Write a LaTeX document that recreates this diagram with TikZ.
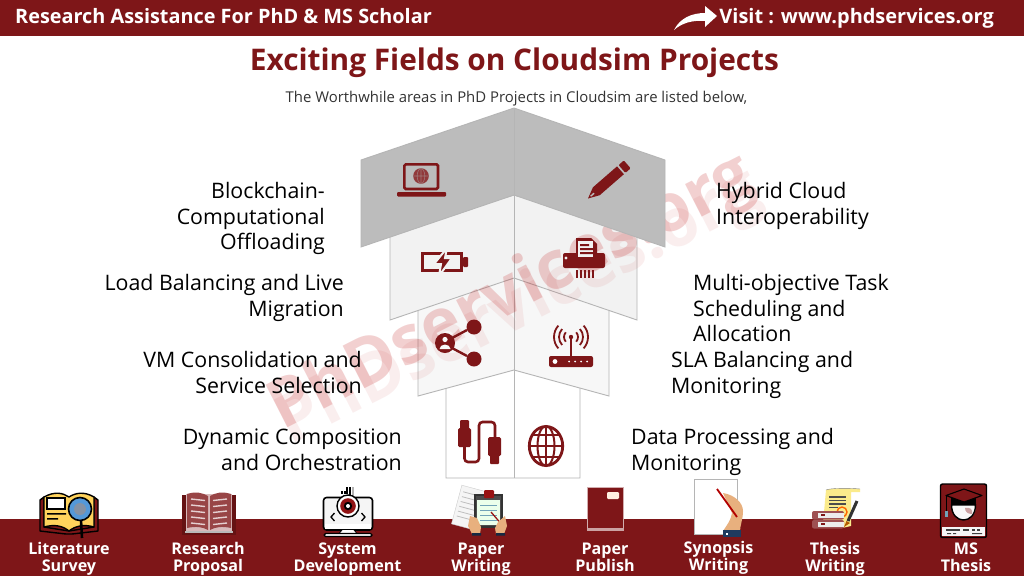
\documentclass[tikz,border=0pt]{standalone}
\usepackage{fontspec}
\setmainfont{Open Sans}
\usetikzlibrary{calc}
\definecolor{maroon}{HTML}{7E1618}
\definecolor{edge}{HTML}{B5B5B5}
\definecolor{skin}{HTML}{E8B07E}
\definecolor{bookyel}{HTML}{FFD35C}
\definecolor{scrolly}{HTML}{FBEB8C}
\definecolor{navy}{HTML}{1F3A5F}
\definecolor{wmred}{HTML}{C01818}
\tikzset{
 panel/.style={draw=edge,line width=.9pt,line join=miter},
 lab/.style={font=\fontsize{21.35}{25.6}\selectfont,text=black,inner sep=0pt},
 labl/.style={lab,align=left,anchor=west},
 labr/.style={lab,align=right,anchor=east},
 foot/.style={font=\bfseries\fontsize{16.1}{17}\selectfont,text=white,align=center,inner sep=0pt,anchor=center},
 wm/.style={font=\bfseries\fontsize{67}{67}\selectfont,inner sep=0pt,rotate=27},
 ic/.style={fill=maroon,draw=none},
 icl/.style={draw=maroon,fill=none,line width=2.6pt},
 blk/.style={draw=black,line width=1.4pt,line join=round}
}
\begin{document}
\begin{tikzpicture}[x=1pt,y=-1pt]
\useasboundingbox (0,0) rectangle (1024,576);
\fill[white] (0,0) rectangle (1024,576);
% bands
\fill[maroon] (0,0) rectangle (1024,36);
\fill[maroon] (0,519) rectangle (1024,576);
% panels, lowest first
\draw[panel,fill=white] (446,378)--(514,360)--(580,378)--(580,478)--(446,478)--cycle;
\draw[panel] (514,370)--(514,478);
\draw[panel,fill=gray!6] (418,304)--(514,278)--(609,304)--(609,396)--(514,370)--(418,396)--cycle;
\draw[panel] (514,278)--(514,370);
\draw[panel,fill=gray!10] (390,230)--(514,195)--(637,230)--(637,320)--(514,278)--(390,320)--cycle;
\draw[panel] (514,195)--(514,278);
% watermark
\node[wm,text=wmred,opacity=.07] (wmb) at (520,309) {PhDservices.org};
\node[wm,text=wmred,opacity=.2] (wma) at (512,294) {PhDservices.org};
% top panels
\draw[panel,fill=edge!90!white] (361,160)--(514,108)--(665,160)--(665,247)--(514,195)--(361,247)--cycle;
\draw[panel] (514,108)--(514,195);
% laptop
\draw[icl,rounded corners=1.5pt] (404.3,164.3) rectangle (438,189);
\fill[ic,rounded corners=1pt] (397,192) rectangle (446,196.5);
\fill[maroon!85!white] (421,176) circle (7.8);
\draw[edge!60!maroon,line width=.6pt] (421,168.5)--(421,183.5) (413.5,176)--(428.5,176) (421,176) ellipse (3.8 and 7.5);
% pencil
\begin{scope}[shift={(588,198.5)},rotate=41]
\fill[ic] (0,0)--(11,-5.2)--(43,-5.2)--(43,5.2)--(11,5.2)--cycle;
\fill[ic,rounded corners=1pt] (45,-5.2) rectangle (52,5.2);
\fill[edge!90!white] (3.5,-0.7) rectangle (8,.7);
\end{scope}
% battery
\draw[icl,line width=3.2pt] (422.6,253.6) rectangle (461.5,270.4);
\fill[ic,rounded corners=1pt] (463,257) rectangle (468,267);
\filldraw[fill=maroon,draw=gray!10,line width=2pt,line join=miter] (447,248)--(434,264)--(441,264)--(439,276)--(452,258)--(445,258)--cycle;
% shredder
\fill[ic,rounded corners=2pt] (563,253) rectangle (605,268);
\fill[ic] (576,238)--(591,238)--(597,244)--(597,258)--(576,258)--cycle;
\fill[gray!10] (578,241) rectangle (593,257);
\fill[ic] (580,244) rectangle (589,246) (580,248) rectangle (593,250) (580,252) rectangle (593,254);
\fill[gray!10] (566,258) circle (1.6);
\foreach \i in {576,580,584,588,592} \fill[ic] (\i,270) rectangle ++(2.2,8);
% share
\draw[maroon,line width=2.4pt] (452,338)--(467,330) (452,348)--(467,356);
\fill[ic] (445,343) circle (10) (474,327) circle (7.5) (474,359) circle (7.5);
\fill[gray!5] (445,339.5) circle (2.6);
\fill[gray!5] (439.5,349) arc (180:360:5.5 and 4.5)--cycle;
% router
\fill[ic,rounded corners=2pt] (549,356) rectangle (593,367);
\draw[maroon,line width=1.8pt] (571,338)--(571,357);
\fill[ic] (571,337) circle (2.2);
\foreach \r in {7,12,17}{
 \draw[maroon,line width=1.8pt] ($(571,337)+(-42:\r)$) arc (-42:42:\r);
 \draw[maroon,line width=1.8pt] ($(571,337)+(138:\r)$) arc (138:222:\r);
}
\fill[white] (555,361.5) circle (2.4);
\foreach \i in {569,575,581,587} \fill[white] (\i,361.5) circle (1);
% usb
\draw[maroon,line width=2.6pt,rounded corners=3.5pt] (464.5,446)--(464.5,462)--(479,462)--(479,422)--(495,422)--(495,438);
\fill[ic,rounded corners=1.5pt] (458,428) rectangle (471,447);
\fill[ic,rounded corners=1pt] (460,420) rectangle (469,429);
\fill[ic,rounded corners=1.5pt] (488,437) rectangle (501,456);
\fill[ic,rounded corners=1pt] (490,455) rectangle (499,464);
% globe
\draw[maroon,line width=2.8pt] (546,446) ellipse (16.7 and 19.5);
\draw[maroon,line width=2pt] (546,446) ellipse (8.5 and 20);
\draw[maroon,line width=2pt] (546,426)--(546,466) (529,446)--(563,446) (532,435)--(560,435) (532,457)--(560,457);
% header arrow
\fill[white] (674,30)..controls (680,18) and (692,13) .. (705,13)--(705,6)--(717,16)--(705,27)--(705,21)..controls (692,20) and (682,23) .. (674,30)--cycle;
% ---- bottom icons ----
% literature
\draw[blk,fill=maroon] (40,500)--(44,497)--(44,527)--(69,531)--(94,527)--(94,497)--(98,500)--(98,531)--(72,534)--(66,534)--(40,531)--cycle;
\draw[blk,fill=bookyel] (44,497)..controls (55,491) and (63,493) .. (69,497)..controls (75,493) and (84,491) .. (94,497)--(94,527)..controls (84,524) and (75,526) .. (69,531)..controls (63,526) and (55,524) .. (44,527)--cycle;
\draw[black,line width=1.2pt,fill=white] (47,498) rectangle (65,509);
\fill[black] (47,513) rectangle (66,514.5) (47,518) rectangle (58,519.5);
\draw[black,line width=2.6pt] (81,520)--(82,538);
\draw[black,line width=1.6pt,fill=cyan!60!blue!70] (80,509) circle (11.5);
\fill[cyan!60!blue!40!black!60] (80,509) circle (6);
% research proposal
\fill[maroon!80!black] (182,495) rectangle (236,535);
\fill[gray!55!white] (185,531) rectangle (233,533);
\fill[white!70!maroon] (186,494) rectangle (232,531);
\fill[maroon!80!white] (187,494)..controls (196,491) and (203,493) .. (208,496)--(208,530)..controls (203,527) and (196,526) .. (187,528)--cycle;
\fill[maroon!80!white] (231,494)..controls (222,491) and (215,493) .. (210,496)--(210,530)..controls (215,527) and (222,526) .. (231,528)--cycle;
\foreach \y in {499,505,511,517,523}{
 \draw[white!80!maroon,line width=1.4pt] (191,\y)--(205,\y+1.5);
 \draw[white!80!maroon,line width=1.4pt] (227,\y)--(213,\y+1.5);
}
% system development
\draw[blk,fill=gray!8,rounded corners=3pt,line width=1.6pt] (323.5,497.5) rectangle (372.5,530);
\fill[white] (325,524) rectangle (371,529);
\fill[white] (342,530) --(354,530)--(357,533.5)--(339,533.5)--cycle;
\draw[black,line width=.8pt] (342,530)--(339,533.5) (354,530)--(357,533.5);
\draw[blk,fill=white,rounded corners=1.5pt] (324,533.5) rectangle (372,536.5);
\draw[black,line width=1.1pt] (347,487)--(347,494) (350,487)--(350,496) (345,491)--(345,494) (342,491)--(342,494);
\draw[gray!60,line width=1.5pt] (353,487)--(353,496);
\draw[blk,fill=white] (348,506) circle (11);
\fill[maroon!85!red] (348,506) circle (7.8);
\fill[black] (348,506) circle (4.2);
\fill[white] (348,506) circle (2);
\draw[black,line width=1.3pt] (334.5,513)--(331,517)--(334.5,521) (361.5,513)--(365,517)--(361.5,521);
% paper writing
\begin{scope}[rotate around={-15:(470,505)}]
\draw[gray!40,fill=gray!8] (457,488) rectangle (484,528);
\foreach \y in {494,499,504,509,514,519} \draw[gray!50,line width=.8pt] (460,\y)--(481,\y);
\end{scope}
\draw[black!80,line width=1.2pt,fill=black!70] (475,495) rectangle (502,527);
\fill[white!92!green] (477,500) rectangle (500,525);
\fill[maroon!80!red,rounded corners=1pt] (484,490) rectangle (494,498);
\foreach \y in {505,510,515,520} \draw[cyan!40!gray,line width=.8pt] (480,\y)--(497,\y);
\draw[maroon!80!red,line width=1.3pt] (491,512)--(503,526);
\fill[skin] (470,516)--(477,518)--(481,527)--(480,534)--(472,534)--(468,526)--cycle;
\fill[skin] (505,516)--(498,522)--(495,528)--(496,534)--(504,534)--(507,526)--cycle;
\fill[navy!70!black] (472,533) rectangle (481,535.5) (496,533) rectangle (505,535.5);
% paper publish
\fill[maroon] (587,487) rectangle (624,529);
\draw[white!65!maroon,line width=.5pt] (587.5,487.5) rectangle (623.5,529);
\fill[white!60!maroon] (587,528) rectangle (624,531);
\fill[white!88!orange,rounded corners=1.2pt] (607,492) rectangle (619,499);
% synopsis
\draw[edge,line width=.9pt,fill=white] (694,479) rectangle (737,534);
\fill[skin] (723,493)..controls (735,495) and (743,503) .. (743,511)..controls (743,519) and (740,526) .. (740,531)--(723,531)..controls (727,525) and (731,520) .. (732,513)--cycle;
\draw[red!70!black,line width=1.8pt] (717,489)--(737,517);
\fill[navy] (723,530) rectangle (741,537);
\fill[white] (726,532.5) rectangle (728,534.5);
% thesis
\fill[scrolly] (826,490)..controls (830,488) and (850,488) .. (860,489)--(860,492)--(851,492)--(851,526)--(842,528)--(823,522)--(824,512)--cycle;
\draw[black!50,line width=.4pt] (826,490)..controls (830,488) and (850,488) .. (860,489);
\foreach \y/\l in {496/846,499.5/846,503/846,506.5/838} \fill[black!70] (829,\y) rectangle (\l,\y+1.6);
\draw[orange!80!red,line width=1.4pt] (842,512) circle (5);
\foreach \y in {511,520}{
\fill[maroon!75!white,rounded corners=2pt] (812,\y) rectangle (844,\y+8.5);
\fill[gray!15] (818,\y+2) rectangle (844,\y+6.5);
\fill[maroon] (821,\y+3) rectangle (825,\y+5);}
\draw[black!80,line width=3pt] (848,521)--(857,501);
\fill[orange!70!black] (846.5,521)--(844,527)--(850,523)--cycle;
% ms thesis
\draw[black,line width=1.4pt,fill=maroon,rounded corners=2pt] (940.5,484) rectangle (986.5,537.5);
\fill[white!92!gray] (942,527) rectangle (985,536);
\foreach \x/\w in {946/14,963/6,972/3,977/3} \fill[black!75] (\x,529) rectangle ++(\w,1.5);
\fill[black!75] (947,533) rectangle ++(4,1.2) (953,533) rectangle ++(3,1.2) (972,533) rectangle ++(10,1.2);
\fill[black] (951,498) rectangle (976,505);
\draw[black,line width=1.4pt,fill=white!95!gray] (951.5,505)..controls (951.5,525) and (975.5,525) .. (975.5,505)--cycle;
\fill[maroon!40!white] (965,508)..controls (970,507) and (973,509) .. (972,514)..controls (968,514) and (965,512) .. (965,508)--cycle;
\draw[black,line width=1.1pt,fill=maroon,line join=round] (964,489)--(982,495.5)--(964,502)--(946,495.5)--cycle;
\draw[black,line width=.9pt] (946,496)--(946,511);
\fill[cyan!40!gray] (944.5,511) rectangle (947.5,517);
% ---- texts ----
\node[font=\bfseries\fontsize{19.85}{24}\selectfont,text=white,inner sep=0pt,anchor=west] (head) at (15,16.5) {Research Assistance For PhD \& MS Scholar};
\node[font=\bfseries\fontsize{19.95}{24}\selectfont,text=white,inner sep=0pt,anchor=east] (visit) at (994,18.5) {Visit : www.phdservices.org};
\node[font=\bfseries\fontsize{29.8}{36}\selectfont,text=maroon,inner sep=0pt] (title) at (514.5,62.5) {Exciting Fields on Cloudsim Projects};
\node[font=\fontsize{14.9}{18}\selectfont,text=black!80,inner sep=0pt] (sub) at (516.5,98.5) {The Worthwhile areas in PhD Projects in Cloudsim are listed below,};
\node[labr,anchor=north east] (l1) at (325,182) {Blockchain-\\Computational\\Offloading};
\node[labr,anchor=north east] (l2) at (344,274) {Load Balancing and Live\\Migration};
\node[labr,anchor=north east] (l3) at (362,351) {VM Consolidation and\\Service Selection};
\node[labr,anchor=north east] (l4) at (402,429) {Dynamic Composition\\and Orchestration};
\node[labl,anchor=north west] (r1) at (716,182) {Hybrid Cloud\\Interoperability};
\node[labl,anchor=north west] (r2) at (693,274) {Multi-objective Task\\Scheduling and\\Allocation};
\node[labl,anchor=north west] (r3) at (671,351) {SLA Balancing and\\Monitoring};
\node[labl,anchor=north west] (r4) at (631,428.5) {Data Processing and\\Monitoring};
\node[foot] (f1) at (69,559) {Literature\\Survey};
\node[foot] (f2) at (208,559) {Research\\Proposal};
\node[foot] (f3) at (347.5,559) {System\\Development};
\node[foot] (f4) at (481,559) {Paper\\Writing};
\node[foot] (f5) at (605,557) {Paper\\Publish};
\node[foot] (f6) at (718.5,558) {Synopsis\\Writing};
\node[foot] (f7) at (835,559) {Thesis\\Writing};
\node[foot] (f8) at (966,557) {MS\\Thesis};
\end{tikzpicture}
\end{document}
